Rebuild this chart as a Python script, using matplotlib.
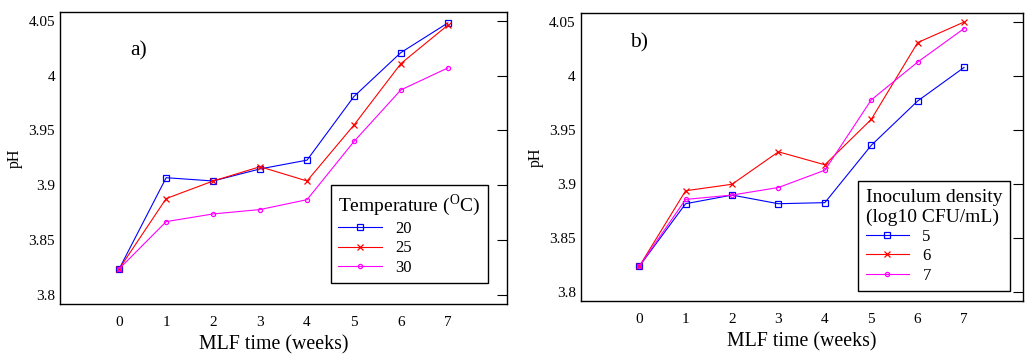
import matplotlib
matplotlib.use("Agg")
import matplotlib.pyplot as plt
from matplotlib.ticker import FuncFormatter

plt.rcParams['font.family'] = ['Liberation Serif', 'DejaVu Serif']
plt.rcParams['mathtext.fontset'] = 'custom'
plt.rcParams['mathtext.rm'] = 'Liberation Serif'

weeks = [0, 1, 2, 3, 4, 5, 6, 7]

# panel a: temperature (°C)
temp_labels = ['20', '25', '30']
ph_t20 = [3.824, 3.907, 3.904, 3.915, 3.923, 3.981, 4.021, 4.048]
ph_t25 = [3.824, 3.888, 3.904, 3.917, 3.904, 3.955, 4.011, 4.046]
ph_t30 = [3.824, 3.867, 3.874, 3.878, 3.887, 3.940, 3.987, 4.007]

# panel b: inoculum density (log10 CFU/mL)
dens_labels = ['5', '6', '7']
ph_d5 = [3.824, 3.882, 3.890, 3.882, 3.883, 3.936, 3.977, 4.008]
ph_d6 = [3.824, 3.894, 3.900, 3.930, 3.918, 3.960, 4.031, 4.050]
ph_d7 = [3.824, 3.886, 3.890, 3.897, 3.913, 3.978, 4.013, 4.044]

colors = ['#0000ff', '#ff0000', '#ff00ff']
markers = [dict(marker='s', ms=4, mfc='none'),
           dict(marker='x', ms=4),
           dict(marker='o', ms=3, mfc='none')]

fig = plt.figure(figsize=(10.30, 3.61), dpi=100)
ax1 = fig.add_axes([0.0583, 0.158, 0.434, 0.809])
ax2 = fig.add_axes([0.5638, 0.166, 0.429, 0.797])


def draw(ax, series, labels, title, tag, tagpos, legpos, xlab_x):
    for y, lab, c, m in zip(series, labels, colors, markers):
        ax.plot(weeks, y, color=c, lw=0.8, mew=0.9, mec=c, label=lab, **m)
    ax.set_xlim(-1.26, 8.26)
    ax.set_ylim(3.792, 4.058)
    ax.set_xticks(weeks)
    ax.set_yticks([3.8, 3.85, 3.9, 3.95, 4.0, 4.05])
    ax.yaxis.set_major_formatter(FuncFormatter(lambda v, p: '%g' % round(v, 2)))
    ax.tick_params(axis='y', left=False, right=True, direction='in',
                   length=7, labelsize=11, labelleft=True)
    ax.tick_params(axis='x', bottom=False, labelsize=11, pad=5)
    for s in ax.spines.values():
        s.set_linewidth(1.0)
    ax.set_xlabel('MLF time (weeks)', fontsize=14.3)
    ax.xaxis.set_label_coords(xlab_x, -0.108)
    ax.xaxis.label.set_va('top')
    ax.set_ylabel('pH', fontsize=11.5, labelpad=4)
    ax.text(tagpos[0], tagpos[1], tag, transform=ax.transAxes,
            fontsize=15.5, ha='center', va='center')
    leg = ax.legend(title=title, loc='lower left', bbox_to_anchor=legpos,
                    fontsize=12, title_fontsize=14, fancybox=False,
                    edgecolor='black', framealpha=1, numpoints=1,
                    handlelength=2.6, labelspacing=0.2, borderpad=0.45,
                    borderaxespad=0)
    leg._legend_box.align = 'left'
    leg.get_frame().set_linewidth(1.0)


draw(ax1, [ph_t20, ph_t25, ph_t30], temp_labels,
     r'Temperature ($^{\mathrm{O}}$C)', 'a)', (0.176, 0.866), (0.606, 0.071),
     0.479)
draw(ax2, [ph_d5, ph_d6, ph_d7], dens_labels,
     'Inoculum density\n(log10 CFU/mL)', 'b)', (0.131, 0.897), (0.628, 0.035),
     0.5)

fig.savefig('out.png', dpi=100)
